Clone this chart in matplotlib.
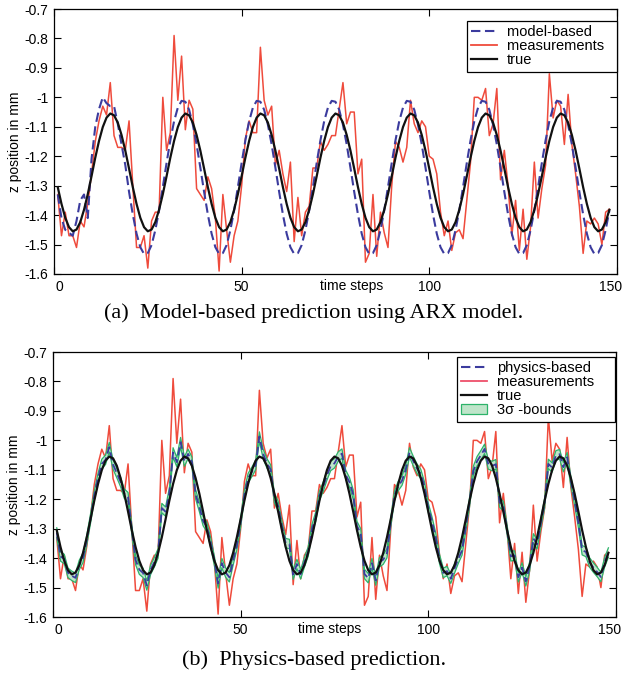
import matplotlib
matplotlib.use('Agg')
import numpy as np
import matplotlib.pyplot as plt
import matplotlib.transforms as mtransforms
from matplotlib.patches import Patch
from matplotlib.lines import Line2D

plt.rcParams['font.family'] = ['Liberation Sans', 'DejaVu Sans']
plt.rcParams['axes.unicode_minus'] = False

# ---------------- data ----------------
time_steps = list(range(1, 149))

true_z = [
    -1.305, -1.362, -1.409, -1.441, -1.455, -1.449, -1.424, -1.382, -1.329, -1.268,
    -1.205, -1.148, -1.101, -1.069, -1.055, -1.061, -1.086, -1.128, -1.181, -1.242,
    -1.305, -1.362, -1.409, -1.441, -1.455, -1.449, -1.424, -1.382, -1.329, -1.268,
    -1.205, -1.148, -1.101, -1.069, -1.055, -1.061, -1.086, -1.128, -1.181, -1.242,
    -1.305, -1.362, -1.409, -1.441, -1.455, -1.449, -1.424, -1.382, -1.329, -1.268,
    -1.205, -1.148, -1.101, -1.069, -1.055, -1.061, -1.086, -1.128, -1.181, -1.242,
    -1.305, -1.362, -1.409, -1.441, -1.455, -1.449, -1.424, -1.382, -1.329, -1.268,
    -1.205, -1.148, -1.101, -1.069, -1.055, -1.061, -1.086, -1.128, -1.181, -1.242,
    -1.305, -1.362, -1.409, -1.441, -1.455, -1.449, -1.424, -1.382, -1.329, -1.268,
    -1.205, -1.148, -1.101, -1.069, -1.055, -1.061, -1.086, -1.128, -1.181, -1.242,
    -1.305, -1.362, -1.409, -1.441, -1.455, -1.449, -1.424, -1.382, -1.329, -1.268,
    -1.205, -1.148, -1.101, -1.069, -1.055, -1.061, -1.086, -1.128, -1.181, -1.242,
    -1.305, -1.362, -1.409, -1.441, -1.455, -1.449, -1.424, -1.382, -1.329, -1.268,
    -1.205, -1.148, -1.101, -1.069, -1.055, -1.061, -1.086, -1.128, -1.181, -1.242,
    -1.305, -1.362, -1.409, -1.441, -1.455, -1.449, -1.424, -1.382,
]

measurements = [
    -1.33, -1.47, -1.39, -1.47, -1.47, -1.51, -1.42, -1.44, -1.36, -1.26,
    -1.15, -1.08, -1.03, -1.06, -0.95, -1.13, -1.17, -1.17, -1.18, -1.08,
    -1.30, -1.51, -1.51, -1.47, -1.58, -1.42, -1.39, -1.39, -1.00, -1.18,
    -1.12, -0.79, -1.01, -0.86, -1.11, -1.01, -1.04, -1.31, -1.33, -1.35,
    -1.27, -1.31, -1.41, -1.59, -1.33, -1.45, -1.56, -1.47, -1.42, -1.30,
    -1.14, -1.08, -1.12, -1.12, -0.83, -1.01, -1.06, -1.03, -1.23, -1.18,
    -1.26, -1.32, -1.22, -1.49, -1.34, -1.47, -1.39, -1.37, -1.24, -1.24,
    -1.15, -1.18, -1.16, -1.13, -1.13, -1.04, -0.95, -1.09, -1.05, -1.05,
    -1.26, -1.21, -1.56, -1.53, -1.33, -1.54, -1.39, -1.46, -1.51, -1.30,
    -1.15, -1.17, -1.22, -1.17, -1.01, -1.09, -1.12, -1.08, -1.10, -1.20,
    -1.21, -1.26, -1.39, -1.47, -1.42, -1.52, -1.46, -1.45, -1.48, -1.35,
    -1.22, -1.00, -1.00, -1.01, -0.97, -1.13, -1.09, -0.97, -1.28, -1.18,
    -1.30, -1.47, -1.35, -1.52, -1.38, -1.55, -1.44, -1.22, -1.41, -1.31,
    -1.23, -0.92, -1.07, -1.01, -1.03, -1.16, -0.99, -1.16, -1.26, -1.37,
    -1.53, -1.42, -1.43, -1.41, -1.43, -1.50, -1.39, -1.38,
]

model_based = [
    -1.33, -1.41, -1.45, -1.46, -1.47, -1.42, -1.35, -1.33, -1.41, -1.21,
    -1.10, -1.04, -1.00, -1.02, -1.03, -1.03, -1.09, -1.16, -1.23,
    -1.321, -1.398, -1.463, -1.509, -1.532, -1.529, -1.502, -1.451, -1.384, -1.305,
    -1.223, -1.146, -1.081, -1.035, -1.012, -1.015, -1.042, -1.093, -1.160, -1.239,
    -1.321, -1.398, -1.463, -1.509, -1.532, -1.529, -1.502, -1.451, -1.384, -1.305,
    -1.223, -1.146, -1.081, -1.035, -1.012, -1.015, -1.042, -1.093, -1.160, -1.239,
    -1.321, -1.398, -1.463, -1.509, -1.532, -1.529, -1.502, -1.451, -1.384, -1.305,
    -1.223, -1.146, -1.081, -1.035, -1.012, -1.015, -1.042, -1.093, -1.160, -1.239,
    -1.321, -1.398, -1.463, -1.509, -1.532, -1.529, -1.502, -1.451, -1.384, -1.305,
    -1.223, -1.146, -1.081, -1.035, -1.012, -1.015, -1.042, -1.093, -1.160, -1.239,
    -1.321, -1.398, -1.463, -1.509, -1.532, -1.529, -1.502, -1.451, -1.384, -1.305,
    -1.223, -1.146, -1.081, -1.035, -1.012, -1.015, -1.042, -1.093, -1.160, -1.239,
    -1.321, -1.398, -1.463, -1.509, -1.532, -1.529, -1.502, -1.451, -1.384, -1.305,
    -1.223, -1.146, -1.081, -1.035, -1.012, -1.015, -1.042, -1.093, -1.160, -1.239,
    -1.321, -1.398, -1.463, -1.509, -1.532, -1.529, -1.502, -1.451, -1.384,
]

physics_based = [
    -1.313, -1.394, -1.403, -1.450, -1.460, -1.467, -1.423, -1.399, -1.338, -1.266,
    -1.188, -1.128, -1.080, -1.066, -1.023, -1.082, -1.111, -1.141, -1.181, -1.193,
    -1.303, -1.406, -1.439, -1.450, -1.493, -1.440, -1.414, -1.384, -1.230, -1.242,
    -1.179, -1.041, -1.074, -1.006, -1.072, -1.046, -1.072, -1.183, -1.226, -1.274,
    -1.294, -1.346, -1.409, -1.486, -1.417, -1.449, -1.465, -1.408, -1.356, -1.278,
    -1.185, -1.128, -1.107, -1.084, -0.987, -1.046, -1.078, -1.099, -1.196, -1.223,
    -1.291, -1.349, -1.352, -1.456, -1.420, -1.455, -1.414, -1.378, -1.302, -1.260,
    -1.188, -1.158, -1.119, -1.087, -1.078, -1.055, -1.045, -1.117, -1.142, -1.184,
    -1.291, -1.316, -1.454, -1.468, -1.417, -1.476, -1.414, -1.405, -1.383, -1.278,
    -1.188, -1.155, -1.137, -1.099, -1.041, -1.070, -1.096, -1.114, -1.157, -1.229,
    -1.276, -1.331, -1.403, -1.450, -1.444, -1.470, -1.435, -1.402, -1.374, -1.293,
    -1.210, -1.104, -1.071, -1.051, -1.029, -1.082, -1.087, -1.081, -1.211, -1.223,
    -1.303, -1.394, -1.391, -1.465, -1.432, -1.479, -1.429, -1.333, -1.353, -1.281,
    -1.213, -1.080, -1.092, -1.051, -1.047, -1.091, -1.057, -1.138, -1.205, -1.280,
    -1.373, -1.379, -1.415, -1.432, -1.447, -1.464, -1.414, -1.381,
]
three_sigma = 0.016

y_ticks = [-1.6, -1.5, -1.4, -1.3, -1.2, -1.1, -1.0, -0.9, -0.8, -0.7]
y_tick_labels = ['-1.6', '-1.5', '-1.4', '-1.3', '-1.2', '-1.1', '-1', '-0.9', '-0.8', '-0.7']
x_ticks = [0, 50, 100, 150]
x_tick_labels = ['0', '50', '100', '150']

# ---------------- style ----------------
RED = '#ef4b3c'
BLUE = '#3b3b9e'
BLACK = '#111111'
GREEN_EDGE = '#2db36a'
GREEN_FILL = '#bfe5ca'
DASH = (4.5, 2.2)

fig = plt.figure(figsize=(6.22, 6.77), dpi=100)
ax1 = fig.add_axes([0.0868, 0.5953, 0.905, 0.3914])
ax2 = fig.add_axes([0.0852, 0.0886, 0.905, 0.3914])


def style_axes(ax, xlabel_x):
    ax.set_xlim(0, 150)
    ax.set_ylim(-1.6, -0.7)
    ax.set_xticks(x_ticks)
    ax.set_xticklabels(x_tick_labels)
    ax.set_yticks(y_ticks)
    ax.set_yticklabels(y_tick_labels)
    ax.tick_params(direction='in', top=True, right=True, length=5, width=0.8,
                   labelsize=10, pad=4, colors='black')
    for sp in ax.spines.values():
        sp.set_linewidth(0.9)
        sp.set_color('black')
    ax.set_ylabel('z position in mm', fontsize=10, labelpad=2)
    ax.set_xlabel('time steps', fontsize=10)
    ax.xaxis.set_label_coords(xlabel_x, -0.02)
    labels = ax.get_xticklabels()
    labels[0].set_transform(labels[0].get_transform() +
                            mtransforms.ScaledTranslation(4 / 72, 0, fig.dpi_scale_trans))
    labels[-1].set_horizontalalignment('right')
    labels[-1].set_transform(labels[-1].get_transform() +
                             mtransforms.ScaledTranslation(4 / 72, 0, fig.dpi_scale_trans))


# top panel
ax1.plot(time_steps, measurements, color=RED, lw=1.1, zorder=2)
ax1.plot(time_steps, model_based, color=BLUE, lw=1.5, dashes=DASH, zorder=3)
ax1.plot(time_steps, true_z, color=BLACK, lw=1.6, zorder=4)
style_axes(ax1, 0.528)
h1 = [Line2D([], [], color=BLUE, lw=1.5, dashes=DASH),
      Line2D([], [], color=RED, lw=1.3),
      Line2D([], [], color=BLACK, lw=1.6)]
leg1 = ax1.legend(h1, ['model-based  ', 'measurements  ', 'true'], loc='upper right',
                  bbox_to_anchor=(1.0, 0.955), fontsize=10.5, frameon=True, fancybox=False,
                  edgecolor='black', framealpha=1, labelspacing=0.0, handlelength=1.75,
                  handletextpad=0.7, borderpad=0.3, borderaxespad=0.0)
leg1.get_frame().set_linewidth(0.9)

# bottom panel
lower = [v - three_sigma for v in physics_based]
upper = [v + three_sigma for v in physics_based]
ax2.plot(time_steps, measurements, color=RED, lw=1.1, zorder=2)
ax2.fill_between(time_steps, lower, upper, facecolor=GREEN_FILL, edgecolor='none', zorder=3)
ax2.plot(time_steps, lower, color=GREEN_EDGE, lw=0.9, zorder=3)
ax2.plot(time_steps, upper, color=GREEN_EDGE, lw=0.9, zorder=3)
ax2.plot(time_steps, physics_based, color=BLUE, lw=1.3, dashes=DASH, zorder=4)
ax2.plot(time_steps, true_z, color=BLACK, lw=1.6, zorder=5)
style_axes(ax2, 0.492)
h2 = [Line2D([], [], color=BLUE, lw=1.5, dashes=DASH),
      Line2D([], [], color='#ee4f6a', lw=1.3),
      Line2D([], [], color=BLACK, lw=1.6),
      Patch(facecolor=GREEN_FILL, edgecolor=GREEN_EDGE, lw=0.9)]
leg2 = ax2.legend(h2, ['physics-based', 'measurements    ', 'true', '3σ -bounds'], loc='upper right',
                  bbox_to_anchor=(0.998, 0.981), fontsize=10.5, frameon=True, fancybox=False,
                  edgecolor='black', framealpha=1, labelspacing=0.0, handlelength=1.75,
                  handletextpad=0.7, borderpad=0.3, borderaxespad=0.0)
leg2.get_frame().set_linewidth(0.9)

# captions
fig.text(0.505, 1 - 313 / 677, '(a)  Model-based prediction using ARX model.',
         ha='center', va='center', fontsize=16, family=['Liberation Serif', 'DejaVu Serif'])
fig.text(0.505, 1 - 660 / 677, '(b)  Physics-based prediction.',
         ha='center', va='center', fontsize=16, family=['Liberation Serif', 'DejaVu Serif'])

fig.savefig('out.png', dpi=100)
